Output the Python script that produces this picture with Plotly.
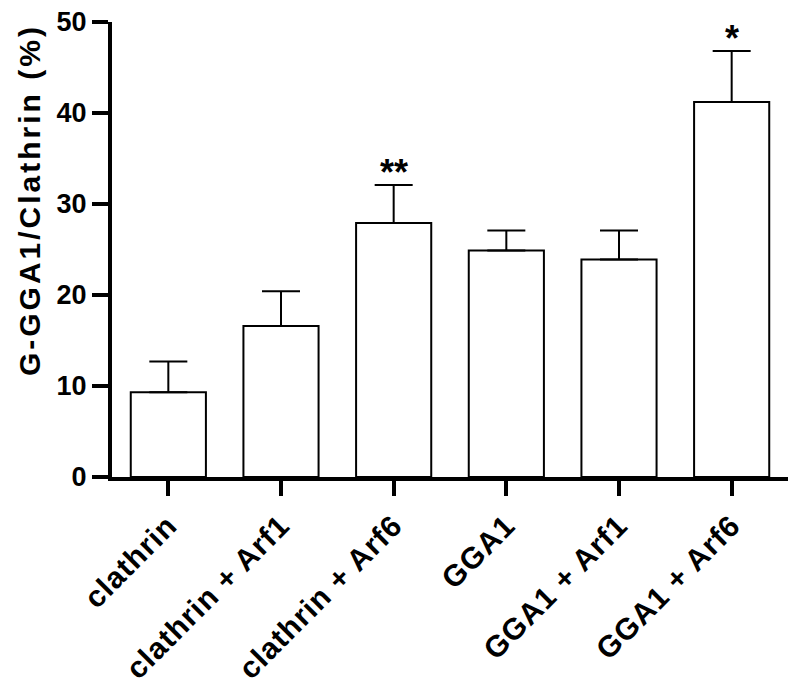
import plotly.graph_objects as go

categories = ["clathrin", "clathrin + Arf1", "clathrin + Arf6", "GGA1", "GGA1 + Arf1", "GGA1 + Arf6"]
means = [9.3, 16.6, 27.9, 24.9, 23.9, 41.2]
errors = [3.4, 3.8, 4.2, 2.2, 3.2, 5.6]
significance = ["", "", "**", "", "", "*"]
yticks = [0, 10, 20, 30, 40, 50]
ytitle = "G-GGA1/Clathrin (%)"

FONT = "Liberation Sans, Arial, sans-serif"

fig = go.Figure()
fig.add_trace(go.Bar(
    x=list(range(len(categories))),
    y=means,
    width=0.667,
    marker=dict(color="white", line=dict(color="black", width=2)),
    error_y=dict(type="data", array=errors, arrayminus=[0] * len(errors),
                 symmetric=False, color="black", thickness=2, width=19),
    showlegend=False,
))

for i, (m, e, s) in enumerate(zip(means, errors, significance)):
    if s:
        fig.add_annotation(x=i, y=m + e, text=f"<b>{s}</b>", showarrow=False,
                           xref="x", yref="y", yanchor="bottom", yshift=-10,
                           font=dict(family=FONT, size=36, color="black"))

fig.add_annotation(x=-0.121, y=0.609, xref="paper", yref="paper",
                   text=f"<b><span style='letter-spacing:3px'>{ytitle}</span></b>", textangle=-90,
                   showarrow=False, xanchor="center", yanchor="middle",
                   font=dict(family=FONT, size=30, color="black"))

fig.update_layout(
    width=792, height=685,
    margin=dict(l=104, r=12, t=14, b=216, autoexpand=False),
    paper_bgcolor="white", plot_bgcolor="white",
    font=dict(family=FONT, color="black"),
    bargap=0.333,
)
fig.update_xaxes(
    range=[-0.5, 5.5], automargin=False, ticklabeloverflow="allow",
    tickmode="array", tickvals=list(range(len(categories))),
    ticktext=[f"<b><span style='letter-spacing:1px'>{c}</span></b>" for c in categories],
    tickangle=-45,
    tickfont=dict(family=FONT, size=30, color="black"),
    showline=True, linecolor="black", linewidth=4,
    ticks="outside", ticklen=15, tickwidth=4, tickcolor="black",
    showgrid=False, zeroline=False,
)
fig.update_yaxes(
    range=[0, 50], automargin=False, ticklabeloverflow="allow",
    tickmode="array", tickvals=yticks,
    ticktext=[f"<b>{v}</b>" for v in yticks],
    tickfont=dict(family=FONT, size=27, color="black"),
    showline=True, linecolor="black", linewidth=4,
    ticks="outside", ticklen=16, tickwidth=4, tickcolor="black",
    showgrid=False, zeroline=False,
)

fig.write_html("out.html")
